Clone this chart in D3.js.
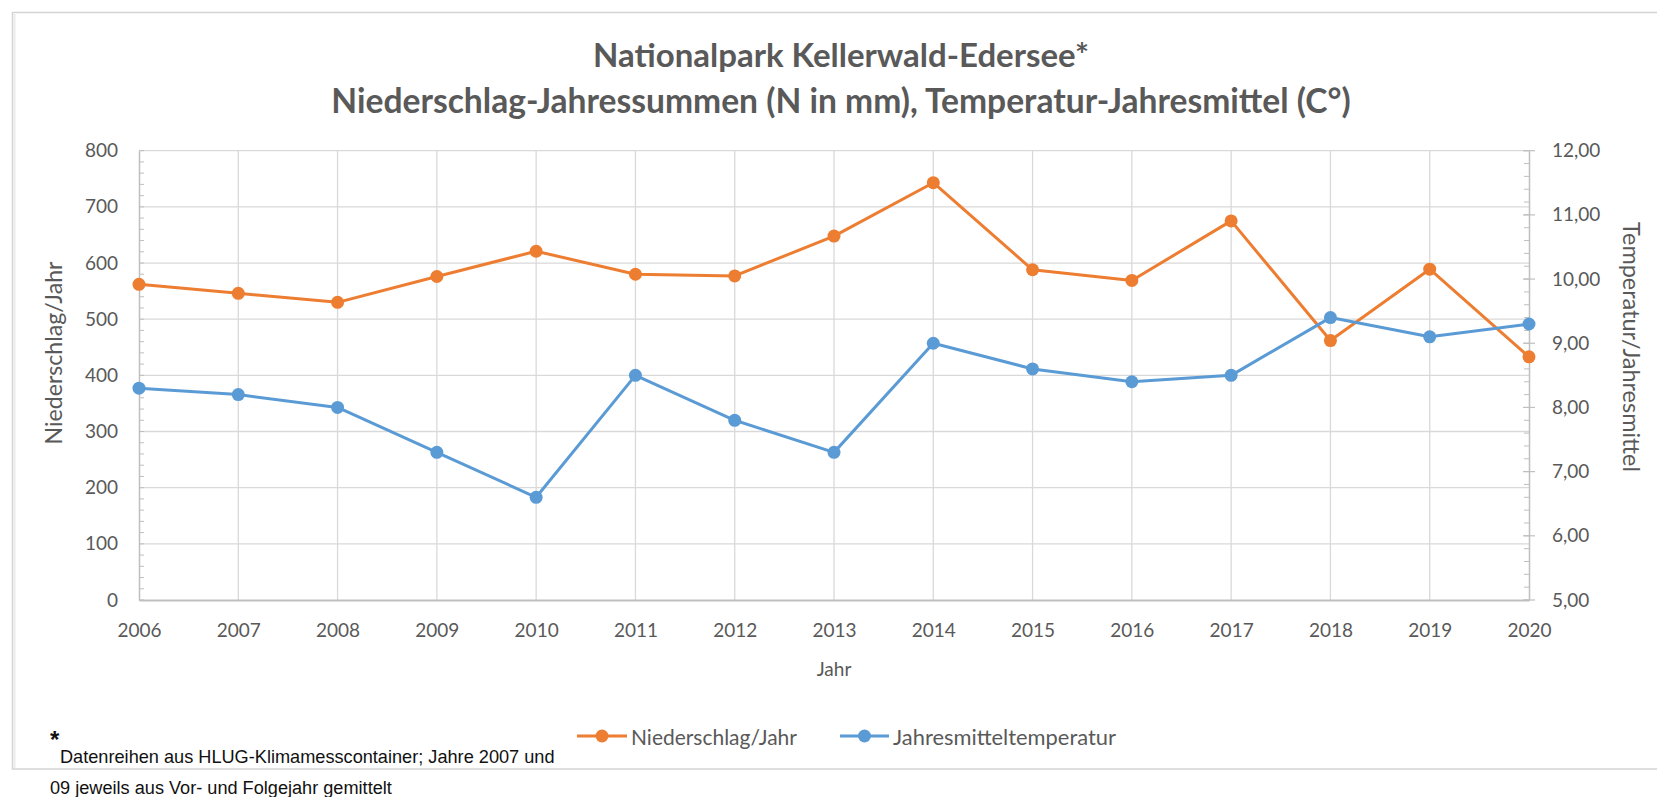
<!DOCTYPE html>
<html><head><meta charset="utf-8">
<script src="https://cdn.jsdelivr.net/npm/d3@7"></script>
<style>body{margin:0;background:#fff;overflow:hidden} svg{display:block}</style>
</head><body><svg id="c" width="1657" height="797"></svg>
<script>
// ---- data ----
const years = [2006,2007,2008,2009,2010,2011,2012,2013,2014,2015,2016,2017,2018,2019,2020];
const niederschlag = [562,546,530,576,621,580,577,648,743,588,569,675,462,589,433];
const temperatur = [8.3,8.2,8.0,7.3,6.6,8.5,7.8,7.3,9.0,8.6,8.4,8.5,9.4,9.1,9.3];
const leftTicks = [0,100,200,300,400,500,600,700,800];
const rightTicks = [5,6,7,8,9,10,11,12];
const titleLines = ["Nationalpark Kellerwald-Edersee*", "Niederschlag-Jahressummen (N in mm), Temperatur-Jahresmittel (C°)"];
const seriesNames = ["Niederschlag/Jahr", "Jahresmitteltemperatur"];
const leftTitle = "Niederschlag/Jahr";
const rightTitle = "Temperatur/Jahresmittel";
const xTitle = "Jahr";
const footnotes = ["Datenreihen aus HLUG-Klimamesscontainer; Jahre 2007 und", "09 jeweils aus Vor- und Folgejahr gemittelt"];

const ORANGE = "#ED7D31", BLUE = "#5B9BD5", TXT = "#595959", GRID = "#d9d9d9", AX = "#bfbfbf";
const FONT = "Lato, 'Open Sans', sans-serif";

const svg = d3.select("#c");
const L = 139, R = 1529, T = 150.7, B = 600;

const x = d3.scaleLinear().domain([years[0], years[years.length-1]]).range([L, R]);
const yL = d3.scaleLinear().domain([0, 800]).range([B, T]);
const yR = d3.scaleLinear().domain([5, 12]).range([B, T]);

function fit(sel, w) {
  const n = sel.node();
  const cur = n.getComputedTextLength();
  const fs = parseFloat(sel.attr("font-size"));
  sel.attr("font-size", (fs * w / cur).toFixed(2));
  return sel;
}

// outer border
svg.append("rect").attr("x", 12.5).attr("y", 12.5).attr("width", 1660).attr("height", 756.5)
  .attr("fill", "none").attr("stroke", "#d4d4d4").attr("stroke-width", 1.5);
svg.append("line").attr("x1", 14.5).attr("x2", 14.5).attr("y1", 14).attr("y2", 768)
  .attr("stroke", "#ececec").attr("stroke-width", 2);

// titles
const tY = [54, 100], tW = [496, 1020];
titleLines.forEach((t, i) => {
  const s = svg.append("text").attr("x", 841).attr("y", tY[i]).attr("text-anchor", "middle")
    .attr("dominant-baseline", "central").attr("font-family", FONT).attr("font-weight", 700)
    .attr("font-size", 28).attr("fill", TXT).text(t);
  fit(s, tW[i]);
});

// gridlines
svg.append("g").selectAll("line").data(leftTicks.filter(d => d > 0)).join("line")
  .attr("x1", L).attr("x2", R).attr("y1", d => yL(d)).attr("y2", d => yL(d))
  .attr("stroke", GRID).attr("stroke-width", 1.3);
svg.append("g").selectAll("line").data(years.slice(1, -1)).join("line")
  .attr("x1", d => x(d)).attr("x2", d => x(d)).attr("y1", T).attr("y2", B)
  .attr("stroke", GRID).attr("stroke-width", 1.3);

// minor ticks
const leftMinor = d3.range(0, 801, 20);
svg.append("g").selectAll("line").data(leftMinor).join("line")
  .attr("x1", L).attr("x2", L + 5).attr("y1", d => yL(d)).attr("y2", d => yL(d))
  .attr("stroke", AX).attr("stroke-width", 1);
const rightMinor = d3.range(5, 12.001, 0.2);
svg.append("g").selectAll("line").data(rightMinor).join("line")
  .attr("x1", R - 5).attr("x2", R).attr("y1", d => yR(d)).attr("y2", d => yR(d))
  .attr("stroke", AX).attr("stroke-width", 1);
svg.append("g").selectAll("line").data(rightTicks).join("line")
  .attr("x1", R - 6).attr("x2", R + 6).attr("y1", d => yR(d)).attr("y2", d => yR(d))
  .attr("stroke", AX).attr("stroke-width", 1.2);

// axes
const styleAxis = g => {
  g.select(".domain").attr("stroke", AX).attr("stroke-width", 1.5);
  g.selectAll("text").attr("fill", TXT).attr("font-family", FONT).attr("font-size", 19);
};
svg.append("g").attr("transform", `translate(${L},0)`)
  .call(d3.axisLeft(yL).tickValues(leftTicks).tickSize(0).tickPadding(21).tickSizeOuter(0))
  .call(styleAxis);
const deFmt = d3.formatLocale({decimal: ",", thousands: ".", grouping: [3], currency: ["", "€"]}).format(".2f");
svg.append("g").attr("transform", `translate(${R},0)`)
  .call(d3.axisRight(yR).tickValues(rightTicks).tickFormat(deFmt).tickSize(0).tickPadding(23).tickSizeOuter(0))
  .call(styleAxis);
svg.append("g").attr("transform", `translate(0,${B})`)
  .call(d3.axisBottom(x).tickValues(years).tickFormat(d3.format("d")).tickSize(0).tickPadding(24).tickSizeOuter(0))
  .call(styleAxis)
  .call(g => g.select(".domain").attr("stroke-width", 2));

// axis titles
fit(svg.append("text").attr("transform", "translate(53,353) rotate(-90)").attr("text-anchor", "middle")
  .attr("dominant-baseline", "central").attr("font-family", FONT).attr("font-size", 19).attr("fill", TXT)
  .text(leftTitle), 183);
fit(svg.append("text").attr("transform", "translate(1632,347) rotate(90)").attr("text-anchor", "middle")
  .attr("dominant-baseline", "central").attr("font-family", FONT).attr("font-size", 19).attr("fill", TXT)
  .text(rightTitle), 250);
svg.append("text").attr("x", (L + R) / 2).attr("y", 668).attr("text-anchor", "middle")
  .attr("dominant-baseline", "central").attr("font-family", FONT).attr("font-size", 19).attr("fill", TXT)
  .text(xTitle);

// series
const series = [
  {name: seriesNames[0], vals: niederschlag, y: yL, color: ORANGE},
  {name: seriesNames[1], vals: temperatur, y: yR, color: BLUE}
];
series.forEach(s => {
  const line = d3.line().x((d, i) => x(years[i])).y(d => s.y(d));
  svg.append("path").datum(s.vals).attr("d", line).attr("fill", "none")
    .attr("stroke", s.color).attr("stroke-width", 3).attr("stroke-linejoin", "round");
  svg.append("g").selectAll("circle").data(s.vals).join("circle")
    .attr("cx", (d, i) => x(years[i])).attr("cy", d => s.y(d)).attr("r", 6.5)
    .attr("fill", s.color);
});

// legend
const legY = 736;
const leg = [{x1: 577, x2: 627, tx: 631, w: 166}, {x1: 840, x2: 889, tx: 893, w: 223}];
series.forEach((s, i) => {
  const l = leg[i];
  svg.append("line").attr("x1", l.x1).attr("x2", l.x2).attr("y1", legY).attr("y2", legY)
    .attr("stroke", s.color).attr("stroke-width", 3);
  svg.append("circle").attr("cx", (l.x1 + l.x2) / 2).attr("cy", legY).attr("r", 6.5).attr("fill", s.color);
  fit(svg.append("text").attr("x", l.tx).attr("y", legY).attr("dominant-baseline", "central")
    .attr("font-family", FONT).attr("font-size", 17).attr("fill", TXT).text(s.name), l.w);
});

// footnote
svg.append("text").attr("x", 50).attr("y", 748).attr("font-family", "'Liberation Sans', Arial, sans-serif")
  .attr("font-weight", 700).attr("font-size", 24).attr("fill", "#111").text("*");
const FN = "'Liberation Sans Narrow', 'Arial Narrow', 'Liberation Sans', Arial, sans-serif";
fit(svg.append("text").attr("x", 60).attr("y", 757).attr("dominant-baseline", "central")
  .attr("font-family", FN).attr("font-size", 16).attr("fill", "#111").text(footnotes[0]), 495);
fit(svg.append("text").attr("x", 50).attr("y", 788).attr("dominant-baseline", "central")
  .attr("font-family", FN).attr("font-size", 16).attr("fill", "#111").text(footnotes[1]), 342);
</script>
</body></html>
